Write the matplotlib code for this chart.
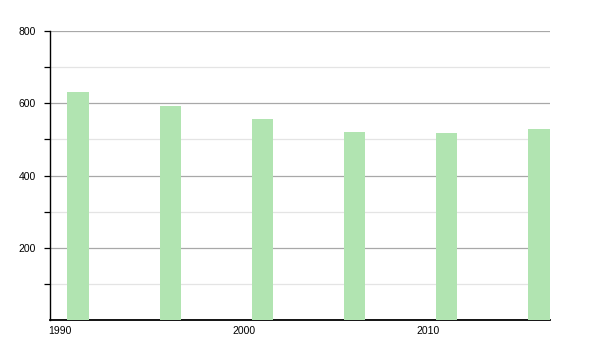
import matplotlib
matplotlib.use("Agg")
import matplotlib.pyplot as plt
from matplotlib.ticker import FixedLocator

years = [1991, 1996, 2001, 2006, 2011, 2016]
values = [631, 592, 556, 520, 518, 529]
xticks = [1990, 2000, 2010]
yticks = [200, 400, 600, 800]

plt.rcParams['font.family'] = ['Liberation Sans', 'DejaVu Sans']

fig = plt.figure(figsize=(6, 3.5), dpi=100)
ax = fig.add_axes([50/600, 30/350, 500/600, 289/350])

ax.bar(years, values, width=1.15, color='#b1e4b1', zorder=3)

ax.set_xlim(1989.48, 2016.6)
ax.set_ylim(0, 800)

ax.yaxis.set_major_locator(FixedLocator(yticks))
ax.yaxis.set_minor_locator(FixedLocator([100, 300, 500, 700]))
ax.xaxis.set_major_locator(FixedLocator(xticks))
ax.set_xticklabels([str(t) for t in xticks])
ax.set_yticklabels([str(t) for t in yticks])

ax.grid(axis='y', which='major', color='#a8a8a8', linewidth=0.9, zorder=1)
ax.grid(axis='y', which='minor', color='#e4e4e4', linewidth=0.9, zorder=1)

for s in ['top', 'right']:
    ax.spines[s].set_visible(False)
ax.spines['left'].set_linewidth(1.0)
ax.spines['bottom'].set_linewidth(1.3)

ax.tick_params(axis='y', which='both', direction='out', length=4, width=0.9, labelsize=7.5, pad=6, colors='black')
ax.tick_params(axis='x', which='both', length=0, labelsize=7.5, pad=4)

fig.savefig('out.png', dpi=100)
